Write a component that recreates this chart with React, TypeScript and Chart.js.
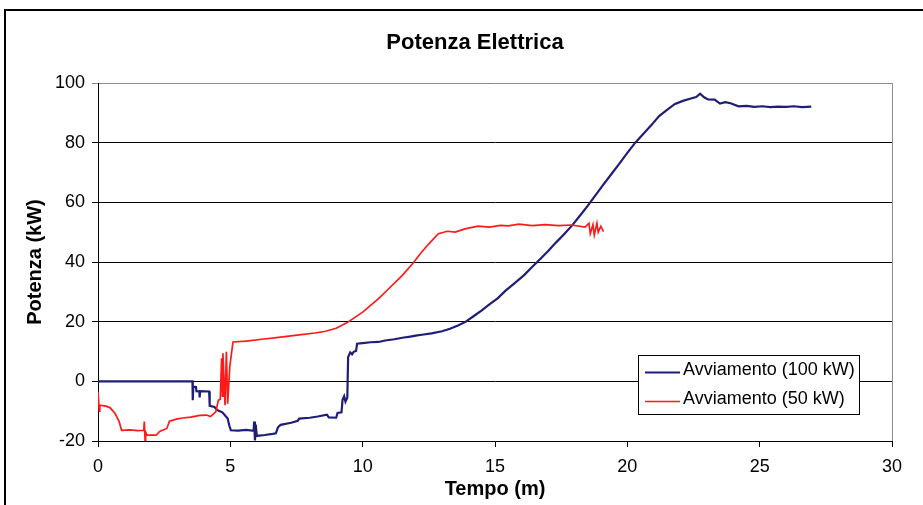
import React, { useEffect, useRef } from 'react';
import { Chart, registerables } from 'chart.js';
Chart.register(...registerables);

const TITLE = 'Potenza Elettrica';
const X_TITLE = 'Tempo (m)';
const Y_TITLE = 'Potenza (kW)';
const SERIES_LABELS = ['Avviamento (100 kW)', 'Avviamento (50 kW)'];
const SERIES_COLORS = ['#1e1e78', '#ff1a1a'];

const X_MIN = 0;
const X_MAX = 30;
const X_STEP = 5;
const Y_MIN = -20;
const Y_MAX = 100;
const Y_STEP = 20;

// Avviamento (100 kW)
const blueT = [0, 3.57, 3.58, 3.6, 3.7, 3.72, 3.83, 3.84, 3.86, 4.2, 4.22, 4.4, 4.5, 4.7, 4.9, 4.96, 5.02, 5.3, 5.6, 5.88, 5.9, 5.93, 5.96, 6.0, 6.3, 6.6, 6.72, 6.8, 6.9, 7.3, 7.55, 7.6, 8.0, 8.3, 8.65, 8.72, 9.0, 9.05, 9.2, 9.24, 9.3, 9.35, 9.42, 9.45, 9.53, 9.6, 9.66, 9.75, 9.79, 10.0, 10.3, 10.6, 10.85, 11.2, 11.5, 11.8, 12.0, 12.3, 12.6, 13.0, 13.3, 13.6, 13.9, 14.2, 14.5, 14.8, 15.1, 15.4, 15.7, 16.1, 16.4, 16.7, 17.0, 17.3, 17.6, 17.9, 18.2, 18.5, 18.8, 19.1, 19.4, 19.7, 20.0, 20.3, 20.6, 20.9, 21.2, 21.5, 21.8, 22.1, 22.4, 22.6, 22.75, 22.9, 23.05, 23.3, 23.5, 23.7, 23.9, 24.2, 24.5, 24.8, 25.1, 25.4, 25.7, 26.0, 26.3, 26.6, 26.95];
const blueP = [0, 0, -6.3, -1.8, -1.9, -3.3, -3.4, -5.4, -3.3, -3.4, -8.2, -8.6, -9.6, -10.4, -12.5, -14.8, -16.4, -16.5, -16.3, -16.6, -13.5, -19.8, -14.5, -18.3, -18.0, -17.6, -17.4, -15.4, -14.6, -13.9, -13.2, -12.5, -12.2, -11.8, -11.2, -12.1, -12.2, -10.6, -10.4, -6.2, -5.0, -6.8, -5.4, 8.1, 9.7, 9.1, 9.9, 10.2, 12.6, 12.8, 13.1, 13.2, 13.7, 14.1, 14.6, 15.0, 15.3, 15.7, 16.1, 16.8, 17.6, 18.7, 20.0, 21.9, 23.8, 25.9, 27.8, 30.4, 32.6, 35.6, 38.3, 40.9, 43.6, 46.5, 49.2, 52.1, 55.4, 58.8, 62.4, 66.0, 69.5, 73.0, 76.6, 80.0, 82.9, 85.8, 88.9, 91.0, 93.0, 94.0, 94.8, 95.3, 96.4, 95.2, 94.5, 94.4, 93.1, 93.6, 93.2, 92.2, 92.3, 92.0, 92.2, 91.9, 92.1, 92.0, 92.2, 91.9, 92.1];

// Avviamento (50 kW)
const redT = [0, 0.03, 0.05, 0.07, 0.3, 0.45, 0.64, 0.8, 0.89, 1.2, 1.5, 1.73, 1.75, 1.78, 1.8, 1.85, 2.2, 2.33, 2.6, 2.7, 3.0, 3.2, 3.5, 3.85, 4.1, 4.25, 4.45, 4.55, 4.62, 4.67, 4.7, 4.72, 4.8, 4.85, 4.9, 4.98, 5.1, 5.6, 6.2, 6.9, 7.6, 8.2, 8.6, 9.0, 9.4, 10.0, 10.6, 11.0, 11.5, 11.9, 12.2, 12.5, 12.86, 13.2, 13.5, 13.86, 14.36, 14.8, 15.2, 15.5, 15.9, 16.4, 16.9, 17.4, 17.9, 18.4, 18.55, 18.6, 18.7, 18.75, 18.85, 18.9, 19.0, 19.1];
const redP = [-3.5, -3.5, -10.0, -8.0, -8.3, -8.8, -10.7, -13.5, -16.4, -16.3, -16.5, -16.4, -13.5, -20.0, -17.0, -18.0, -18.0, -16.8, -15.8, -13.4, -12.6, -12.3, -12.0, -11.4, -11.3, -11.8, -10.2, -6.3, -6.0, 7.7, -5.0, 9.4, -8.0, 9.9, -7.5, 5.0, 13.2, 13.5, 14.1, 14.8, 15.6, 16.2, 16.8, 17.8, 19.6, 23.2, 27.7, 31.2, 35.5, 39.6, 43.0, 46.1, 49.5, 50.3, 50.0, 51.1, 52.0, 51.7, 52.3, 52.1, 52.7, 52.2, 52.5, 52.2, 52.4, 51.7, 53.0, 49.5, 52.5, 49.0, 53.0, 50.0, 52.0, 50.2];

const FONT = "'Liberation Sans', Arial, sans-serif";

export default function App() {
  const ref = useRef<HTMLCanvasElement>(null);

  useEffect(() => {
    if (!ref.current) return;
    const overlay = {
      id: 'overlay',
      afterDraw(chart: any) {
        const ctx = chart.ctx;
        const area = chart.chartArea;
        ctx.save();
        // plot area right border
        ctx.strokeStyle = '#8c8c8c';
        ctx.lineWidth = 1;
        ctx.beginPath();
        ctx.moveTo(Math.round(area.right) + 0.5, area.top);
        ctx.lineTo(Math.round(area.right) + 0.5, area.bottom);
        ctx.stroke();
        // title
        ctx.fillStyle = '#000';
        ctx.font = `bold 22px ${FONT}`;
        ctx.textAlign = 'center';
        ctx.textBaseline = 'middle';
        ctx.fillText(TITLE, 475, 42.5);
        // legend
        const lx = 638.5, ly = 355.5, lw = 221, lh = 59;
        ctx.fillStyle = '#fff';
        ctx.fillRect(lx, ly, lw, lh);
        ctx.strokeStyle = '#000';
        ctx.lineWidth = 1;
        ctx.strokeRect(lx, ly, lw, lh);
        const rows = [372.5, 401.5];
        chart.data.datasets.forEach((ds: any, i: number) => {
          ctx.strokeStyle = ds.borderColor;
          ctx.lineWidth = ds.borderWidth;
          ctx.beginPath();
          ctx.moveTo(645, rows[i]);
          ctx.lineTo(680, rows[i]);
          ctx.stroke();
          ctx.fillStyle = '#000';
          ctx.font = `18px ${FONT}`;
          ctx.textAlign = 'left';
          ctx.textBaseline = 'middle';
          ctx.fillText(ds.label, 683, rows[i] - 2);
        });
        ctx.restore();
      },
    };

    const chart = new Chart(ref.current, {
      type: 'line',
      data: {
        datasets: [
          {
            label: SERIES_LABELS[0],
            data: blueT.map((t, i) => ({ x: t, y: blueP[i] })),
            borderColor: SERIES_COLORS[0],
            backgroundColor: SERIES_COLORS[0],
            borderWidth: 2.2,
            pointRadius: 0,
            tension: 0,
            order: 1,
          },
          {
            label: SERIES_LABELS[1],
            data: redT.map((t, i) => ({ x: t, y: redP[i] })),
            borderColor: SERIES_COLORS[1],
            backgroundColor: SERIES_COLORS[1],
            borderWidth: 1.7,
            pointRadius: 0,
            tension: 0,
            order: 0,
          },
        ],
      },
      options: {
        animation: false,
        responsive: false,
        maintainAspectRatio: false,
        layout: { padding: { top: 83, right: 31, left: 0, bottom: 0 } },
        plugins: {
          legend: { display: false },
          title: { display: false },
          tooltip: { enabled: false },
        },
        scales: {
          x: {
            type: 'linear',
            min: X_MIN,
            max: X_MAX,
            ticks: { stepSize: X_STEP, padding: 9, color: '#000', font: { family: FONT, size: 18 }, maxRotation: 0 },
            grid: { drawOnChartArea: false, drawTicks: true, tickLength: 6, color: '#000' },
            border: { color: '#000', width: 1 },
            title: { display: true, text: X_TITLE, color: '#000', font: { family: FONT, size: 20, weight: 'bold' }, padding: { top: 0, bottom: 4 } },
            afterFit: (s: any) => { s.height = 64; },
          },
          y: {
            type: 'linear',
            min: Y_MIN,
            max: Y_MAX,
            ticks: { stepSize: Y_STEP, padding: 7, color: '#000', font: { family: FONT, size: 18 } },
            grid: {
              color: (c: any) => (c.tick && c.tick.value === Y_MAX ? '#8c8c8c' : '#000'),
              tickLength: 6,
              lineWidth: 1,
            },
            border: { color: '#000', width: 1 },
            title: { display: true, text: Y_TITLE, color: '#000', font: { family: FONT, size: 20, weight: 'bold' }, padding: { top: 23, bottom: 0 } },
            afterFit: (s: any) => { s.width = 98; },
          },
        },
      },
      plugins: [overlay],
    } as any);
    return () => chart.destroy();
  }, []);

  return (
    <div style={{ position: 'absolute', left: 0, top: 0, width: 923, height: 505, overflow: 'hidden', background: '#fff' }}>
      <div style={{ position: 'absolute', left: 4, top: 9, width: 2000, height: 2000, borderLeft: '2px solid #000', borderTop: '2px solid #000' }} />
      <canvas ref={ref} width={923} height={505} style={{ position: 'absolute', left: 0, top: 0, width: 923, height: 505 }} />
    </div>
  );
}
